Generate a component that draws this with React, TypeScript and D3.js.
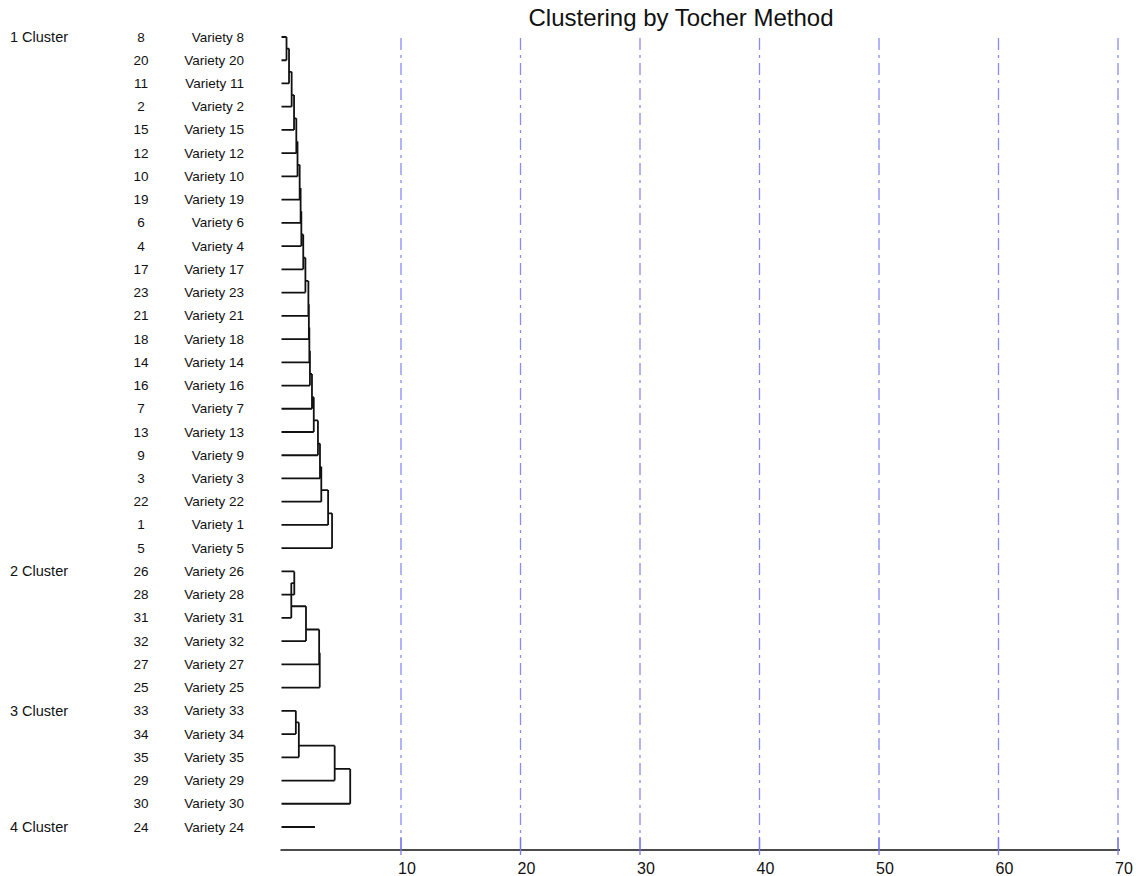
import * as d3 from 'd3';
import React, { useEffect, useRef } from 'react';

// Tocher clusters, varieties in plotted order (top to bottom)
const clusterNames = ['1 Cluster', '2 Cluster', '3 Cluster', '4 Cluster'];

const cluster1 = [8, 20, 11, 2, 15, 12, 10, 19, 6, 4, 17, 23, 21, 18, 14, 16, 7, 13, 9, 3, 22, 1, 5];
const cluster2 = [26, 28, 31, 32, 27, 25];
const cluster3 = [33, 34, 35, 29, 30];
const cluster4 = [24];

// height at which each following variety joins the group above it
const cluster1Joins = [0.42, 0.63, 0.85, 1.05, 1.24, 1.34, 1.52, 1.6, 1.66, 1.82, 2.0,
    2.25, 2.29, 2.33, 2.38, 2.55, 2.7, 3.05, 3.22, 3.33, 3.9, 4.23];
const cluster2Joins = [1.07, 0.82, 2.05, 3.15, 3.2];
const cluster3Joins = [1.2, 1.45, 4.45, 5.75];
const cluster4Stem = [2.8];

const xTicks = [10, 20, 30, 40, 50, 60, 70];

const W = 1136;
const H = 876;
const font = 'Arial, "Liberation Sans", sans-serif';

/**
 * Dendrogram of the Tocher clusters.
 */
function Dendrogram() {
    const ref = useRef<SVGSVGElement>(null);

    useEffect(() => {
        const svg = d3.select(ref.current);
        svg.selectAll('*').remove();

        const members = [cluster1, cluster2, cluster3, cluster4];
        const joins = [cluster1Joins, cluster2Joins, cluster3Joins, []];
        const total = d3.sum(members, m => m.length);

        const x = d3.scaleLinear().domain([0, 70]).range([281.5, 1118]);
        const y = d3.scaleLinear().domain([0, total - 1]).range([37, 827]);
        const axisY = 850;

        // title
        svg.append('text')
            .attr('x', 681)
            .attr('y', 26)
            .attr('text-anchor', 'middle')
            .style('font-family', font)
            .style('font-size', '24px')
            .attr('fill', '#111')
            .text('Clustering by Tocher Method');

        // dash-dot grid lines
        svg.append('g')
            .selectAll('line')
            .data(xTicks)
            .enter()
            .append('line')
            .attr('x1', d => x(d))
            .attr('x2', d => x(d))
            .attr('y1', 38)
            .attr('y2', axisY)
            .attr('stroke', '#8a8af5')
            .attr('stroke-width', 1.3)
            .attr('stroke-dasharray', '12,5,3,5');

        // axis
        svg.append('line')
            .attr('x1', x(0) - 1)
            .attr('x2', x(70) + 2)
            .attr('y1', axisY)
            .attr('y2', axisY)
            .attr('stroke', '#111')
            .attr('stroke-width', 1.6);

        const ticks = svg.append('g');
        ticks.selectAll('line')
            .data(xTicks)
            .enter()
            .append('line')
            .attr('x1', d => x(d))
            .attr('x2', d => x(d))
            .attr('y1', axisY - 13)
            .attr('y2', axisY + 5)
            .attr('stroke', '#7a7af0')
            .attr('stroke-width', 1.3);
        ticks.selectAll('text')
            .data(xTicks)
            .enter()
            .append('text')
            .attr('x', d => x(d) - 3)
            .attr('y', 874)
            .style('font-family', font)
            .style('font-size', '16px')
            .attr('fill', '#111')
            .text(d => d);

        const labels = svg.append('g')
            .style('font-family', font)
            .style('font-size', '13.5px')
            .attr('fill', '#111');

        const path = d3.path();
        let row = 0;

        members.forEach((leaves, ci) => {
            labels.append('text')
                .attr('x', 10)
                .attr('y', y(row) + 5)
                .style('font-size', '14.5px')
                .text(clusterNames[ci]);

            leaves.forEach((v, i) => {
                labels.append('text')
                    .attr('x', 141)
                    .attr('y', y(row + i) + 4.5)
                    .attr('text-anchor', 'middle')
                    .text(v);
                labels.append('text')
                    .attr('x', 244)
                    .attr('y', y(row + i) + 4.5)
                    .attr('text-anchor', 'end')
                    .text(`Variety ${v}`);
            });

            const j = joins[ci];
            if (leaves.length === 1) {
                path.moveTo(x(0), y(row));
                path.lineTo(x(cluster4Stem[0]), y(row));
            }
            let nodeY = y(row);
            let nodeH = 0;
            for (let i = 1; i < leaves.length; i++) {
                const h = j[i - 1];
                const leafY = y(row + i);
                // branch of the group formed so far
                path.moveTo(x(nodeH), nodeY);
                path.lineTo(x(h), nodeY);
                // new variety
                path.moveTo(x(0), leafY);
                path.lineTo(x(h), leafY);
                // join
                path.moveTo(x(h), nodeY);
                path.lineTo(x(h), leafY);
                nodeY = (y(row + i - 1) + leafY) / 2;
                nodeH = h;
            }
            row += leaves.length;
        });

        svg.append('path')
            .attr('d', path.toString())
            .attr('fill', 'none')
            .attr('stroke', '#111')
            .attr('stroke-width', 1.8);
    }, []);

    return <svg ref={ref} width={W} height={H} style={{ position: 'absolute', left: 0, top: 0, background: '#fff' }} />;
}

export default function App() {
    return <Dendrogram />;
}
